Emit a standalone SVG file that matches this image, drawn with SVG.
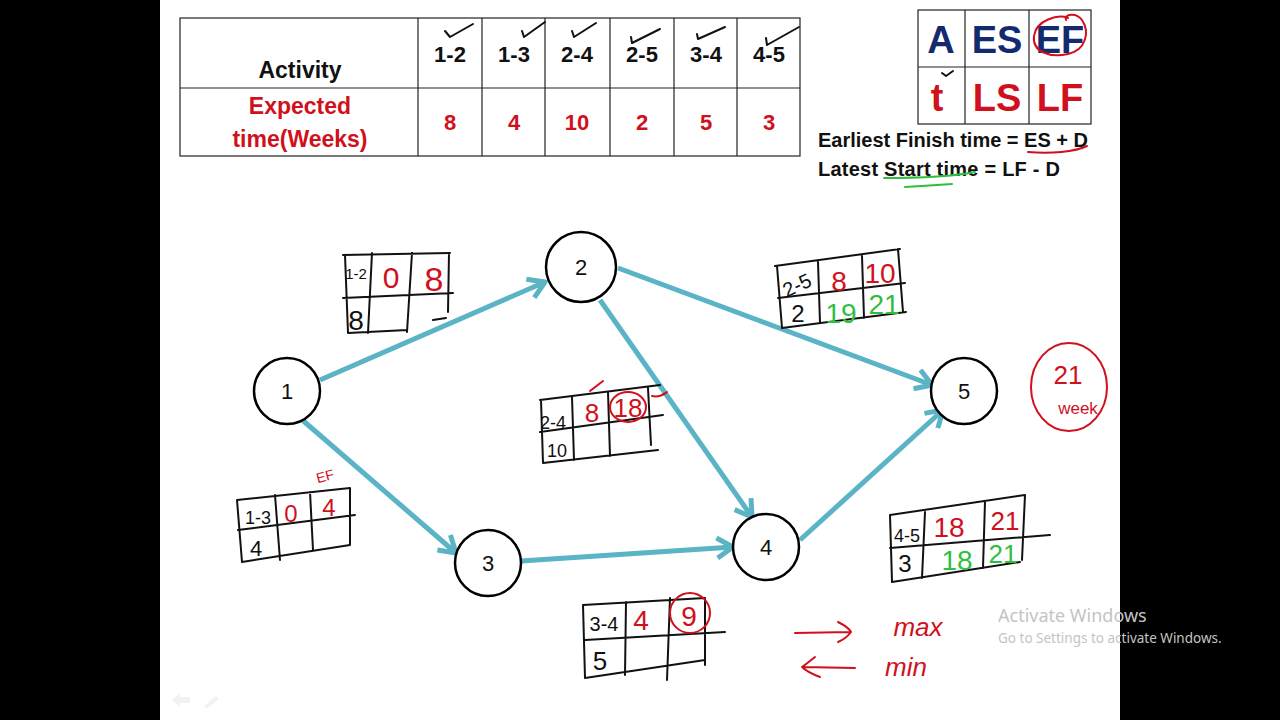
<svg xmlns="http://www.w3.org/2000/svg" width="1280" height="720" viewBox="0 0 1280 720">
<defs>
<style>
.tb{font-family:"Liberation Sans",Arial,sans-serif;font-weight:bold;font-size:22px;text-anchor:middle}
.blk{fill:#111}
.red{fill:#d0101c}
.navy{fill:#142a6e}
.grn{fill:#2fbf3f}
.hw{font-family:"Liberation Sans",Arial,sans-serif;text-anchor:middle}
.ink{fill:none;stroke:#111;stroke-width:2;stroke-linecap:round;stroke-linejoin:round}
.rink{fill:none;stroke:#d0101c;stroke-width:2;stroke-linecap:round;stroke-linejoin:round}
.gink{fill:none;stroke:#2fbf3f;stroke-width:2;stroke-linecap:round}
.node circle{fill:#fff;stroke:#000;stroke-width:2.5}
.node text{font-family:"Liberation Sans",Arial,sans-serif;font-size:22px;text-anchor:middle;fill:#111}
.edge{fill:none;stroke:#5ab4c6;stroke-width:5;marker-end:url(#ah)}
.wm{font-family:"Noto Sans","Open Sans",sans-serif;fill:#c4c4c4}
</style>
<marker id="ah" markerUnits="userSpaceOnUse" viewBox="0 0 24 24" refX="20" refY="12" markerWidth="24" markerHeight="24" orient="auto">
<path d="M4,2 L20,12 L4,22" fill="none" stroke="#5ab4c6" stroke-width="5" stroke-linejoin="round"/>
</marker>
</defs>
<rect x="0" y="0" width="1280" height="720" fill="#000"/>
<rect x="160" y="0" width="960" height="720" fill="#fff"/>

<g id="table">
<rect x="180" y="18" width="620" height="138" fill="none" stroke="#222" stroke-width="1.2"/>
<line x1="180" y1="88" x2="800" y2="88" stroke="#222" stroke-width="1.2"/>
<g stroke="#222" stroke-width="1.2">
<line x1="418" y1="18" x2="418" y2="156"/><line x1="482" y1="18" x2="482" y2="156"/><line x1="545" y1="18" x2="545" y2="156"/><line x1="610" y1="18" x2="610" y2="156"/><line x1="674" y1="18" x2="674" y2="156"/><line x1="737" y1="18" x2="737" y2="156"/>
</g>
<text class="tb blk" x="300" y="78" style="font-size:23px">Activity</text>
<text class="tb blk" x="450" y="62">1-2</text>
<text class="tb blk" x="514" y="62">1-3</text>
<text class="tb blk" x="577" y="62">2-4</text>
<text class="tb blk" x="642" y="62">2-5</text>
<text class="tb blk" x="706" y="62">3-4</text>
<text class="tb blk" x="769" y="62">4-5</text>
<text class="tb red" x="300" y="114" style="font-size:23px">Expected</text>
<text class="tb red" x="300" y="147" style="font-size:23px">time(Weeks)</text>
<text class="tb red" x="450" y="130">8</text>
<text class="tb red" x="514" y="130">4</text>
<text class="tb red" x="577" y="130">10</text>
<text class="tb red" x="642" y="130">2</text>
<text class="tb red" x="706" y="130">5</text>
<text class="tb red" x="769" y="130">3</text>
<g class="ink" stroke-width="1.5">
<path d="M445,31 L450,37 L473,24"/>
<path d="M522,31 L524,37 L545,22"/>
<path d="M572,31 L574,37 L596,23"/>
<path d="M631,37 L632,43 L660,29"/>
<path d="M697,34 L698,39 L725,27"/>
<path d="M766,38 L767,45 L799,27"/>
</g>
</g>

<g id="legend">
<rect x="918" y="10" width="173" height="114" fill="none" stroke="#222" stroke-width="1.2"/>
<line x1="918" y1="67" x2="1091" y2="67" stroke="#222" stroke-width="1.2"/>
<line x1="965" y1="10" x2="965" y2="124" stroke="#222" stroke-width="1.2"/>
<line x1="1029" y1="10" x2="1029" y2="124" stroke="#222" stroke-width="1.2"/>
<text class="tb navy" style="font-size:38px" x="941" y="53">A</text>
<text class="tb navy" style="font-size:38px" x="997" y="53">ES</text>
<text class="tb navy" style="font-size:38px" x="1060" y="53">EF</text>
<text class="tb red" style="font-size:38px" x="937" y="111">t</text>
<text class="tb red" style="font-size:38px" x="997" y="111">LS</text>
<text class="tb red" style="font-size:38px" x="1060" y="111">LF</text>
<path class="rink" d="M1068,18 C1058,14 1036,20 1034,36 C1032,52 1050,58 1068,54 C1086,50 1090,32 1082,20 C1076,12 1064,14 1066,20"/>
<path class="ink" stroke-width="1.3" d="M942,73 L946,76 L953,71"/>
<text class="hw blk" style="text-anchor:start;font-size:20px;font-weight:bold" x="818" y="147" textLength="270">Earliest Finish time = ES + D</text>
<text class="hw blk" style="text-anchor:start;font-size:20px;font-weight:bold" x="818" y="176" textLength="242">Latest Start time = LF - D</text>
<path class="rink" d="M1028,152 C1050,154 1075,152 1087,146"/>
<path class="gink" d="M884,178 C910,178 950,177 975,172"/>
<path class="gink" d="M905,187 C920,186 938,185 952,184"/>
</g>

<g id="connectors">
<path class="edge" d="M320,380 L545,282"/>
<path class="edge" d="M300,418 L456,553"/>
<path class="edge" d="M618,268 L932,385"/>
<path class="edge" d="M600,300 L752,517"/>
<path class="edge" d="M521,561 L733,547"/>
<path class="edge" d="M800,540 L943,410"/>
</g>

<g id="node1" class="node"><circle cx="287" cy="391" r="33"/><text x="287" y="399">1</text></g>
<g id="node2" class="node"><circle cx="581" cy="267" r="35"/><text x="581" y="275">2</text></g>
<g id="node3" class="node"><circle cx="488" cy="563" r="33"/><text x="488" y="571">3</text></g>
<g id="node4" class="node"><circle cx="766" cy="547" r="33"/><text x="766" y="555">4</text></g>
<g id="node5" class="node"><circle cx="964" cy="391" r="33"/><text x="964" y="399">5</text></g>

<g id="box12">
<path class="ink" d="M343,255 L450,253 M345,255 L348,333 M343,298 L453,293 M372,253 L368,333 M412,253 L407,332 M449,253 L448,312 M348,333 L407,330 M433,320 L446,318"/>
<text class="hw blk" style="font-size:15px" x="356" y="279">1-2</text>
<text class="hw red" style="font-size:30px" x="391" y="288">0</text>
<text class="hw red" style="font-size:34px" x="434" y="291">8</text>
<text class="hw blk" style="font-size:28px" x="356" y="330">8</text>
</g>

<g id="box25">
<path class="ink" d="M775,266 L900,249 M777,266 L782,328 M778,298 L905,283 M818,262 L820,323 M862,256 L864,318 M898,249 L903,312 M782,328 L906,312"/>
<text class="hw blk" style="font-size:20px" x="797" y="292" transform="rotate(-25 797 285)">2-5</text>
<text class="hw red" style="font-size:28px" x="839" y="291">8</text>
<text class="hw red" style="font-size:28px" x="880" y="283">10</text>
<text class="hw blk" style="font-size:24px" x="798" y="322">2</text>
<text class="hw grn" style="font-size:28px" x="841" y="323">19</text>
<text class="hw grn" style="font-size:28px" x="884" y="314">21</text>
</g>

<g id="box24">
<path class="ink" d="M540,400 L660,385 M541,400 L543,463 M540,432 L663,415 M572,397 L574,460 M608,392 L610,456 M648,388 L651,445 M543,463 L658,450"/>
<text class="hw blk" style="font-size:18px" x="553" y="429">2-4</text>
<text class="hw red" style="font-size:26px" x="592" y="422">8</text>
<text class="hw red" style="font-size:26px" x="628" y="417">18</text>
<ellipse class="rink" cx="628" cy="407" rx="18" ry="15"/>
<path class="rink" d="M590,391 L603,381 M652,396 C660,398 664,394 667,392"/>
<text class="hw blk" style="font-size:18px" x="557" y="457">10</text>
</g>

<g id="box13">
<path class="ink" d="M237,500 L350,488 M237,500 L242,562 M238,530 L355,515 M275,495 L280,560 M310,492 L313,550 M350,488 L350,545 M242,562 L350,545"/>
<text class="hw blk" style="font-size:18px" x="258" y="524">1-3</text>
<text class="hw red" style="font-size:24px" x="291" y="522">0</text>
<text class="hw red" style="font-size:24px" x="329" y="516">4</text>
<text class="hw blk" style="font-size:22px" x="256" y="556">4</text>
<text class="hw red" style="font-size:14px" x="325" y="481" transform="rotate(-15 325 476)">EF</text>
</g>

<g id="box34">
<path class="ink" d="M583,605 L705,598 M583,605 L585,678 M585,640 L725,632 M626,602 L625,675 M670,598 L667,680 M705,598 L705,665 M585,678 L705,660"/>
<text class="hw blk" style="font-size:20px" x="604" y="631">3-4</text>
<text class="hw red" style="font-size:28px" x="641" y="630">4</text>
<text class="hw red" style="font-size:28px" x="689" y="626">9</text>
<ellipse class="rink" cx="690" cy="613" rx="20" ry="20"/>
<text class="hw blk" style="font-size:26px" x="600" y="670">5</text>
</g>

<g id="box45">
<path class="ink" d="M890,515 L1025,495 M890,515 L892,582 M890,548 L1050,535 M925,512 L922,578 M985,502 L983,568 M1025,495 L1022,560 M892,582 L1020,562"/>
<text class="hw blk" style="font-size:18px" x="907" y="542">4-5</text>
<text class="hw red" style="font-size:28px" x="949" y="537">18</text>
<text class="hw red" style="font-size:26px" x="1005" y="530">21</text>
<text class="hw blk" style="font-size:24px" x="905" y="572">3</text>
<text class="hw grn" style="font-size:28px" x="957" y="570">18</text>
<text class="hw grn" style="font-size:26px" x="1003" y="563">21</text>
</g>

<g id="result">
<ellipse class="rink" cx="1069" cy="387" rx="38" ry="44"/>
<text class="hw red" style="font-size:26px" x="1068" y="384">21</text>
<text class="hw red" style="font-size:17px" x="1078" y="414">week</text>
</g>

<g id="notes">
<path class="rink" d="M795,633 L850,632 M838,622 C846,626 850,630 851,632 C848,636 843,640 838,642"/>
<text class="hw red" style="font-size:26px;font-style:italic" x="918" y="636">max</text>
<path class="rink" d="M855,668 L803,667 M815,657 C810,661 805,665 802,667 C806,671 812,674 820,677"/>
<text class="hw red" style="font-size:26px;font-style:italic" x="906" y="676">min</text>
</g>

<g id="watermark">
<text class="wm" style="font-size:18px" x="998" y="622">Activate Windows</text>
<text class="wm" style="font-size:13.5px" x="998" y="643">Go to Settings to activate Windows.</text>
<path d="M172,700 L180,693 L180,697 L190,697 L190,703 L180,703 L180,707 Z" fill="#f2f2f2"/>
<path d="M204,706 L216,696 L219,699 L207,709 Z" fill="#f2f2f2"/>
</g>
</svg>
